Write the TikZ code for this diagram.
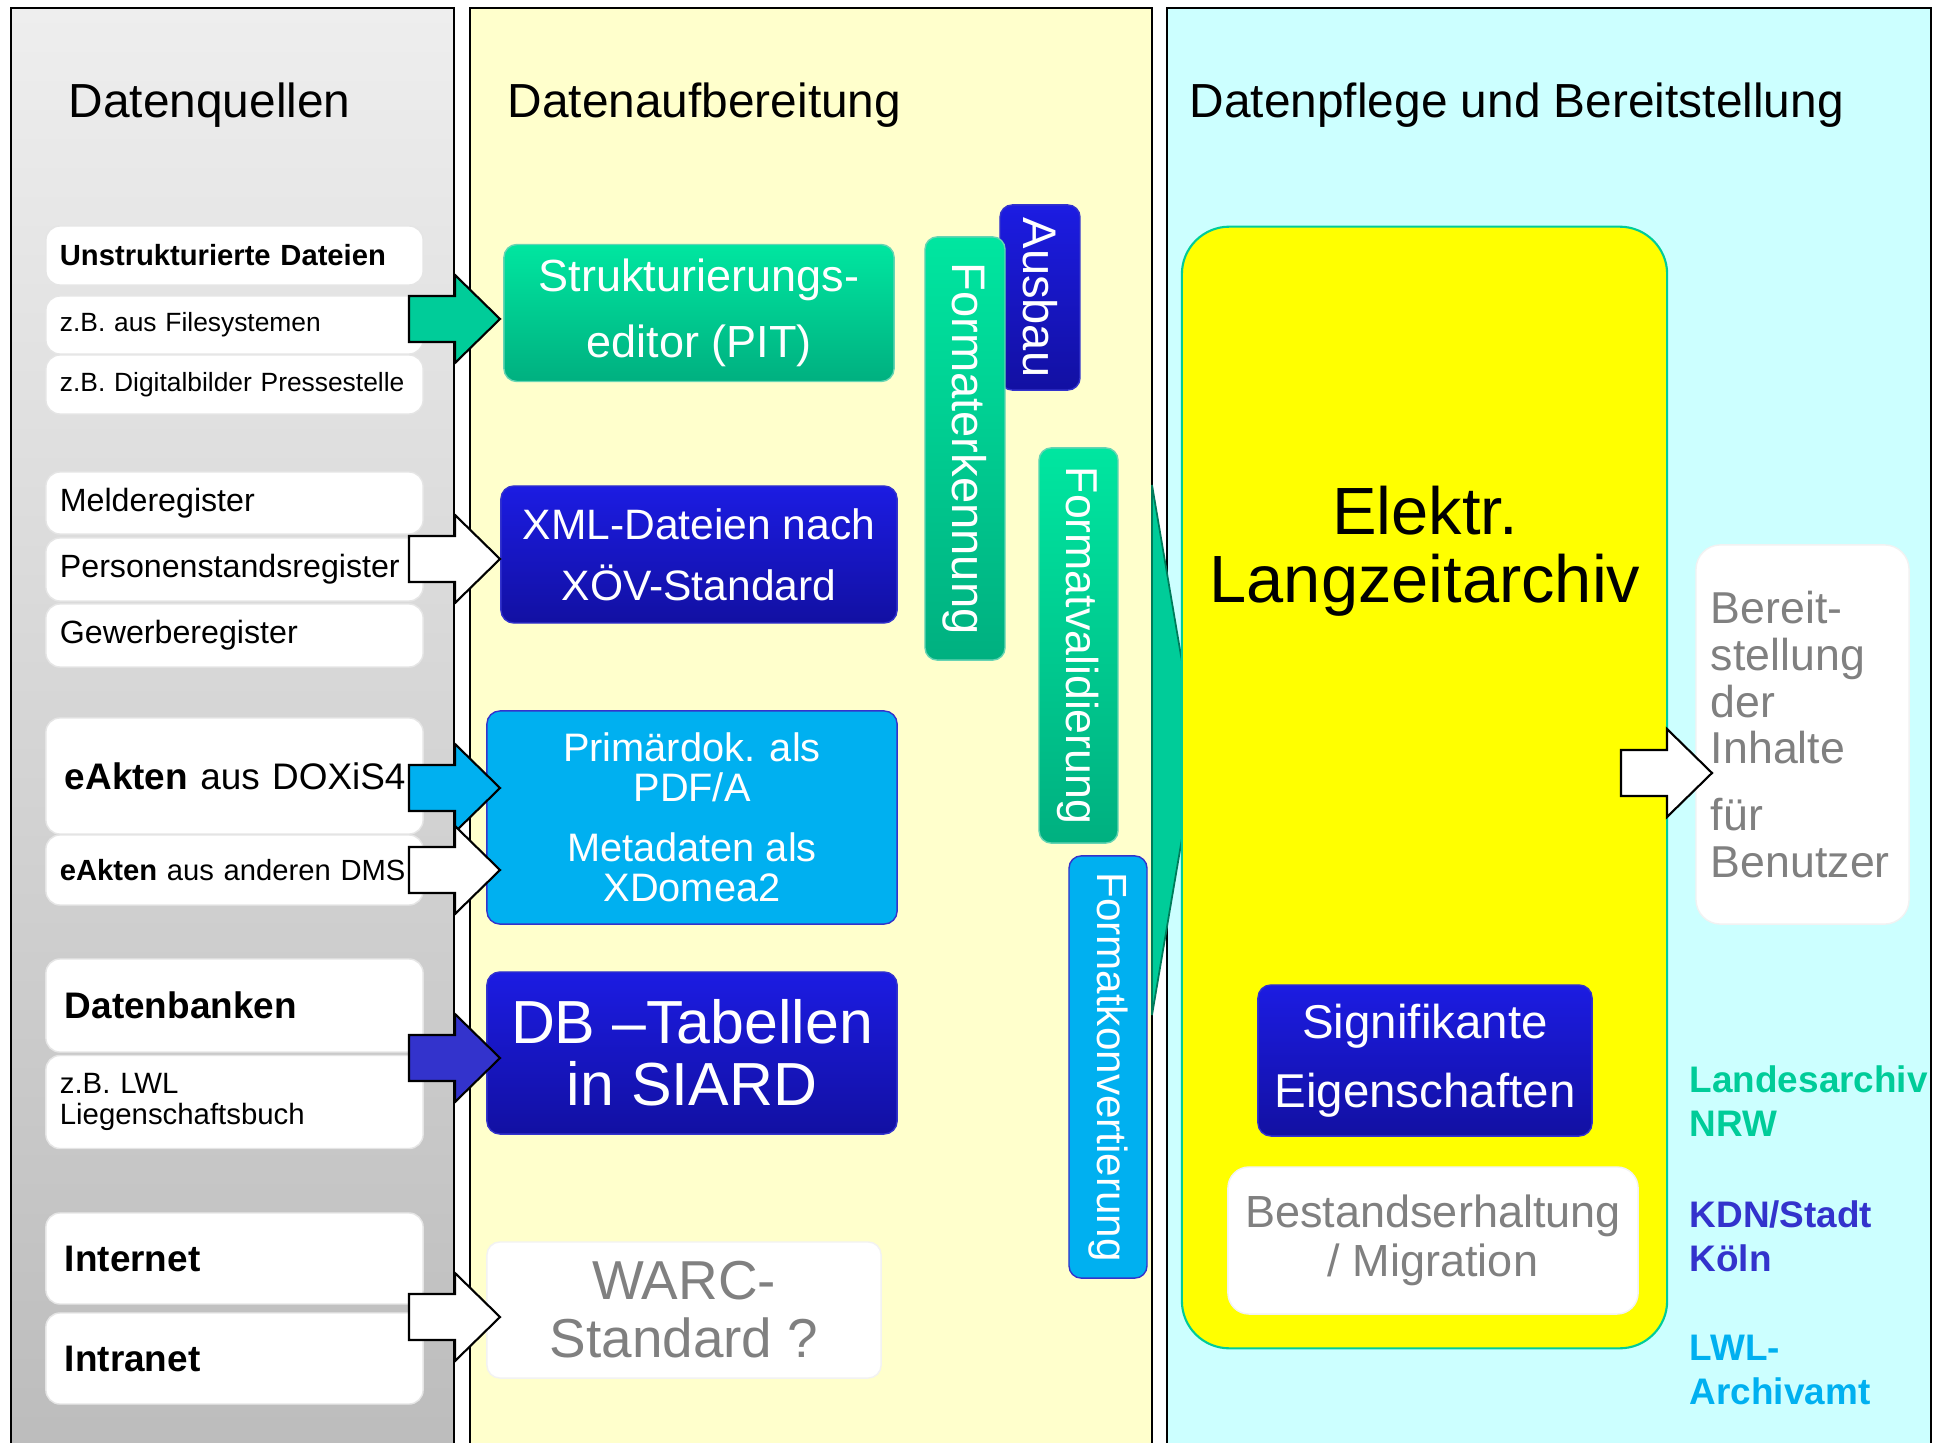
\documentclass[tikz,border=0pt]{standalone}
\usepackage{fontspec}
\setmainfont{Liberation Sans}
\definecolor{grayT}{RGB}{238,238,238}
\definecolor{grayB}{RGB}{188,188,188}
\definecolor{paneY}{RGB}{255,255,204}
\definecolor{paneC}{RGB}{204,255,255}
\definecolor{grnT}{RGB}{0,230,160}
\definecolor{grnB}{RGB}{0,176,128}
\definecolor{grnA}{RGB}{0,204,153}
\definecolor{bluT}{RGB}{28,28,226}
\definecolor{bluB}{RGB}{18,16,162}
\definecolor{bluA}{RGB}{51,51,204}
\definecolor{cyaA}{RGB}{0,176,240}
\definecolor{txtG}{RGB}{128,128,128}
\definecolor{archY}{RGB}{255,255,0}
\newcommand{\fsz}[2]{\fontsize{#1pt}{#2pt}\selectfont}
\newcommand{\barrow}[3]{\draw[blockarrow,fill=#1] (#2,#3-23) -- ++(46,0) -- ++(0,-21) -- ++(45,44) -- ++(-45,44) -- ++(0,-21) -- ++(-46,0) -- cycle;}

\begin{document}
\begin{tikzpicture}[x=0.01cm,y=-0.01cm]
\tikzstyle{panel}=[draw=black,line width=0.6pt]
\tikzstyle{title}=[anchor=base west,inner sep=0pt,font=\fsz{13.6}{16}]
\tikzstyle{src}=[rectangle,rounded corners=4pt,fill=white,draw=black!10,
minimum width=3.77cm,inner sep=0pt,text width=3.49cm,align=left]
\tikzstyle{srcbig}=[src,text width=3.39cm]
\tikzstyle{mid}=[rectangle,rounded corners=3.7pt,inner sep=0pt,align=center,text=white]
\tikzstyle{grnbox}=[mid,top color=grnT,bottom color=grnB,draw=grnT!80!black!60]
\tikzstyle{blubox}=[mid,top color=bluT,bottom color=bluB,draw=bluA]
\tikzstyle{cyabox}=[mid,fill=cyaA,draw=bluA]
\tikzstyle{whtbox}=[mid,fill=white,draw=black!5,text=txtG]
\tikzstyle{bar}=[rectangle,rounded corners=3.5pt,rotate=-90,inner sep=0pt,text=white]
\tikzstyle{blockarrow}=[draw=black,line width=0.6pt,line join=miter]
\tikzstyle{org}=[anchor=west,inner sep=0pt,align=left,font=\fsz{10.5}{12.5}\bfseries]

\useasboundingbox (0,0) rectangle (1934,1443);
\clip (0,0) rectangle (1934,1443);
\fill[white] (0,0) rectangle (1934,1443);

\draw[panel,top color=grayT,bottom color=grayB] (11,8) rectangle (454,1460);
\draw[panel,fill=paneY] (470,8) rectangle (1152,1460);
\draw[panel,fill=paneC] (1167,8) rectangle (1931,1460);

\node[title] (t1) at (68,118) {Datenquellen};
\node[title] (t2) at (507,118) {Datenaufbereitung};
\node[title] (t3) at (1189,118) {Datenpflege und Bereitstellung};

\node[src,minimum height=0.59cm,font=\fsz{8.3}{10}] (s1) at (234.5,255.5) {\textbf{Unstrukturierte Dateien}};
\node[src,minimum height=0.58cm,font=\fsz{7.5}{9}] (s2) at (234.5,325) {z.B. aus Filesystemen};
\node[src,minimum height=0.59cm,font=\fsz{7.5}{9}] (s3) at (234.5,384.5) {z.B. Digitalbilder Pressestelle};
\node[src,minimum height=0.62cm,font=\fsz{9.15}{11}] (s4) at (234.5,503) {Melderegister};
\node[src,minimum height=0.63cm,font=\fsz{9.15}{11}] (s5) at (234.5,569.5) {Personenstandsregister};
\node[src,minimum height=0.63cm,font=\fsz{9.15}{11}] (s6) at (234.5,635.5) {Gewerberegister};
\node[srcbig,minimum height=1.16cm,font=\fsz{10.5}{12}] (s7) at (234.5,776) {\mbox{\textbf{eAkten} aus DOXiS4}};
\node[src,minimum height=0.70cm,font=\fsz{8.3}{9}] (s8) at (234.5,870) {\mbox{\textbf{eAkten} aus anderen DMS}};
\node[srcbig,minimum height=0.93cm,font=\fsz{10.5}{12}] (s9) at (234.5,1005.5) {\textbf{Datenbanken}};
\node[src,minimum height=0.93cm,font=\fsz{8.35}{8.6}] (s10) at (234.5,1102) {z.B. LWL\\Liegenschaftsbuch};
\node[srcbig,minimum height=0.91cm,font=\fsz{10.5}{12}] (s11) at (234.5,1258.5) {\textbf{Internet}};
\node[srcbig,minimum height=0.91cm,font=\fsz{10.5}{12}] (s12) at (234.5,1358.5) {\textbf{Intranet}};

\node[grnbox,minimum width=3.90cm,minimum height=1.37cm,font=\fsz{12.8}{18.8}] (pit) at (699,313) {Strukturierungs-\\editor (PIT)};
\node[blubox,minimum width=3.96cm,minimum height=1.37cm,font=\fsz{12.1}{17.4}] (xml) at (699,554.5) {XML-Dateien nach\\XÖV-Standard};
\node[cyabox,minimum width=4.10cm,minimum height=2.13cm,font=\fsz{11.3}{11.4}] (pdf) at (692,817.5) {Primärdok. als\\PDF/A\\[5.7pt]Metadaten als\\XDomea2};
\node[blubox,minimum width=4.10cm,minimum height=1.62cm,font=\fsz{17.3}{17.6}] (db) at (692,1053) {DB –Tabellen\\in SIARD};
\node[whtbox,minimum width=3.94cm,minimum height=1.36cm,font=\fsz{15.6}{16.5}] (warc) at (684,1310) {WARC-\\Standard ?};

\node[bar,top color=bluT,bottom color=bluB,draw=bluA,minimum width=1.85cm,minimum height=0.80cm,font=\fsz{13.4}{16}] (ausbau) at (1040,297.5) {Ausbau};
\node[bar,top color=grnT,bottom color=grnB,draw=grnT!80!black!60,minimum width=4.23cm,minimum height=0.80cm,font=\fsz{13.4}{16}] (erkenn) at (965,448.5) {Formaterkennung};
\node[bar,top color=grnT,bottom color=grnB,draw=grnT!80!black!60,minimum width=3.95cm,minimum height=0.79cm,font=\fsz{12.7}{15}] (valid) at (1078.5,645.5) {Formatvalidierung};
\node[bar,fill=cyaA,draw=bluA,minimum width=4.22cm,minimum height=0.78cm,font=\fsz{12}{14}] (konv) at (1108,1067) {Formatkonvertierung};

\draw[fill=grnA,draw=grnB!70!black,line width=0.5pt] (1152,485) -- (1197,750) -- (1152,1015) -- cycle;

\node[rectangle,rounded corners=13.5pt,fill=archY,draw=grnA,line width=0.6pt,minimum width=4.85cm,minimum height=11.21cm] (arch) at (1424.5,787.5) {};
\node[inner sep=0pt,align=center,font=\fsz{19}{19.3}] (archt) at (1425,551) {Elektr.\\Langzeitarchiv};
\node[blubox,minimum width=3.34cm,minimum height=1.51cm,font=\fsz{13.5}{19.6}] (sig) at (1425,1060.5) {Signifikante\\Eigenschaften};
\node[whtbox,rounded corners=6pt,minimum width=4.10cm,minimum height=1.47cm,font=\fsz{12.8}{13.9}] (best) at (1433,1240.5) {Bestandserhaltung\\/ Migration};
\node[whtbox,rounded corners=7pt,minimum width=2.13cm,minimum height=3.79cm,text width=1.83cm,align=left,font=\fsz{12.7}{13.3}] (bereit) at (1802.5,734.5) {Bereit-\\stellung\\der\\Inhalte\\[5.7pt]für\\Benutzer};

\node[org,text=grnA] (lnrw) at (1689,1101.5) {Landesarchiv\\NRW};
\node[org,text=bluA] (lkdn) at (1689,1236) {KDN/Stadt\\Köln};
\node[org,text=cyaA] (llwl) at (1689,1369.5) {LWL-\\Archivamt};

\barrow{grnA}{409}{319}
\barrow{white}{409}{559}
\barrow{cyaA}{409}{788}
\barrow{white}{409}{870}
\barrow{bluA}{409}{1058}
\barrow{white}{409}{1317}
\barrow{white}{1621}{773}

\end{tikzpicture}
\end{document}
